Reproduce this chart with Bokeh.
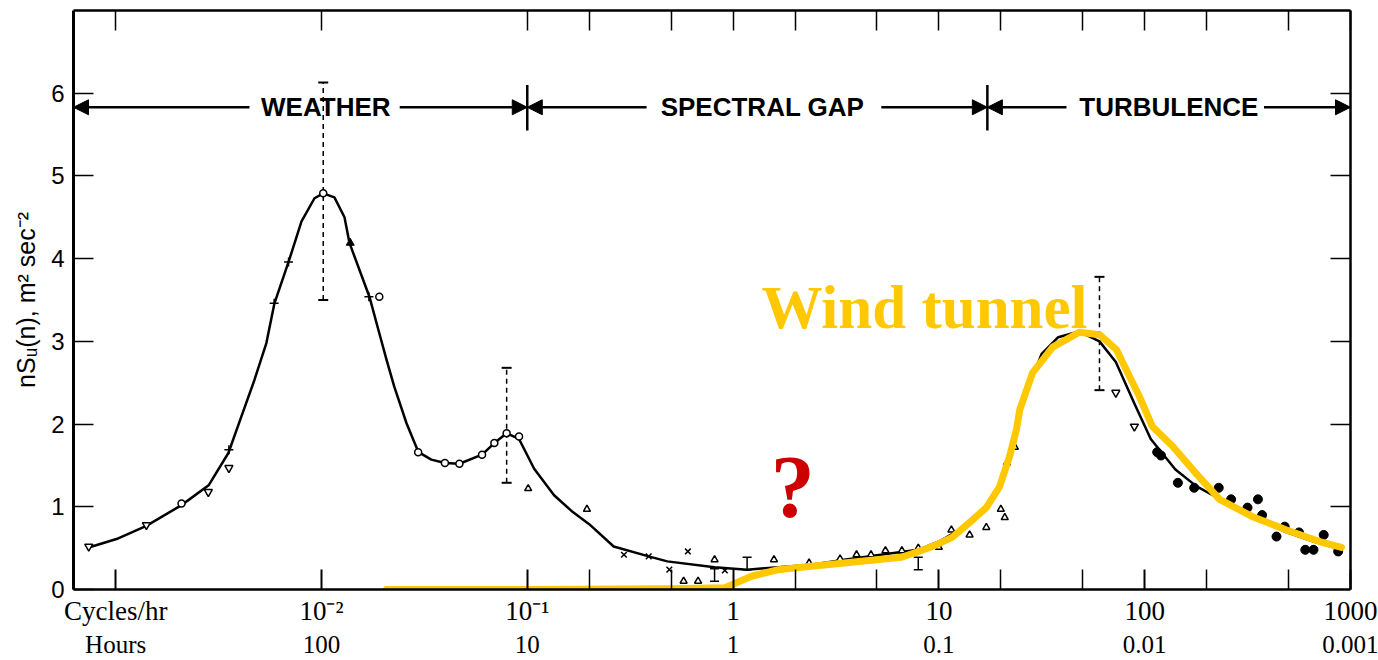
from bokeh.plotting import figure
from bokeh.models import (LogAxis, LinearAxis, FixedTicker, Range1d, Label,
                          Arrow, NormalHead)
from bokeh.embed import file_html
from bokeh.resources import INLINE

# ---------------- data (cycles/hr, m^2 sec^-2) ----------------
curve_f = [0.000746, 0.00101, 0.00141, 0.00209, 0.00283, 0.00353, 0.00408, 0.00472,
           0.0054, 0.00591, 0.00692, 0.0080, 0.00925, 0.0102, 0.01156, 0.01294,
           0.01368, 0.0171, 0.0189, 0.0207, 0.0226, 0.0259, 0.0296, 0.0342,
           0.0398, 0.0468, 0.0603, 0.0692, 0.0794, 0.0912, 0.108, 0.135, 0.164,
           0.200, 0.263, 0.389, 0.479, 0.813, 1.17, 1.48, 2.40, 3.47, 6.03, 7.94,
           10.0, 12.6, 15.8, 19.1, 22.4, 26.3, 31.6, 38.0, 47.9, 60.3, 72.4, 89.1,
           107, 141, 178, 229, 316, 479, 661, 912]
curve_v = [0.51, 0.61, 0.77, 1.02, 1.26, 1.65, 2.09, 2.53, 2.98, 3.46, 3.96, 4.45,
           4.73, 4.79, 4.74, 4.50, 4.19, 3.54, 3.14, 2.78, 2.45, 2.01, 1.66, 1.57,
           1.53, 1.52, 1.63, 1.77, 1.89, 1.82, 1.46, 1.14, 0.95, 0.79, 0.52, 0.40,
           0.34, 0.27, 0.24, 0.26, 0.30, 0.36, 0.44, 0.48, 0.58, 0.72, 0.90, 1.20,
           1.70, 2.35, 2.85, 3.05, 3.12, 3.00, 2.75, 2.25, 1.82, 1.45, 1.25, 1.10,
           0.92, 0.70, 0.58, 0.48]

wt_f = [0.0207, 0.099, 0.50, 0.908, 1.23, 1.66, 2.15, 3.76, 6.58, 7.96, 9.52, 11.6,
        14.1, 17.0, 19.7, 22.0, 23.8, 24.7, 28.5, 35.7, 48.2, 60.3, 72.9, 81.6,
        94.4, 109, 137, 171, 231, 334, 489, 707, 904]
wt_v = [0.0, 0.0, 0.01, 0.02, 0.16, 0.24, 0.27, 0.33, 0.39, 0.46, 0.53, 0.63, 0.81,
        0.99, 1.24, 1.60, 1.93, 2.17, 2.62, 2.93, 3.11, 3.08, 2.90, 2.65, 2.33,
        1.97, 1.73, 1.45, 1.09, 0.88, 0.72, 0.58, 0.51]

invtri_f = [0.00074, 0.00141, 0.00282, 0.00355, 72.4, 89.1]
invtri_v = [0.52, 0.78, 1.18, 1.47, 2.38, 1.97]
ocirc_f = [0.00209, 0.0102, 0.0191, 0.0295, 0.0398, 0.0468, 0.0603, 0.0692, 0.0794, 0.0912]
ocirc_v = [1.04, 4.79, 3.54, 1.66, 1.53, 1.52, 1.63, 1.77, 1.89, 1.85]
plus_f = [0.00355, 0.00589, 0.00692, 0.0170]
plus_v = [1.69, 3.46, 3.96, 3.54]
ftri_f = [0.0138]
ftri_v = [4.19]
otri_f = [0.101, 0.195, 0.575, 0.676, 0.813, 1.58, 2.34, 3.31, 3.98, 4.68, 5.50,
          6.61, 7.94, 10.0, 11.5, 14.1, 17.0, 20.0, 20.9, 21.4, 23.4]
otri_v = [1.22, 0.97, 0.10, 0.10, 0.36, 0.36, 0.32, 0.37, 0.42, 0.42, 0.47, 0.47,
          0.50, 0.51, 0.72, 0.66, 0.75, 0.97, 0.87, 1.53, 1.72]
xm_f = [0.295, 0.389, 0.603, 0.490, 0.912]
xm_v = [0.42, 0.40, 0.46, 0.24, 0.23]
fcirc_f = [115, 120, 145, 174, 229, 263, 316, 355, 372, 437, 479, 562, 603, 661, 741, 871]
fcirc_v = [1.66, 1.62, 1.29, 1.23, 1.23, 1.09, 0.99, 1.09, 0.90, 0.64, 0.76, 0.69,
           0.48, 0.48, 0.66, 0.46]

eb_f = [0.0102, 0.0794, 60.3]
eb_lo = [3.50, 1.29, 2.41]
eb_hi = [6.13, 2.68, 3.78]
seb_f = [0.813, 1.17, 7.94]
seb_lo = [0.10, 0.24, 0.24]
seb_hi = [0.25, 0.39, 0.39]

x_major = [0.001, 0.01, 0.1, 1, 10, 100, 1000]
x_minor = [0.2, 0.5, 2, 5, 20, 50, 200, 500]
cycles_labels = ["Cycles/hr", "10\u207b\u00b2", "10\u207b\u00b9", "1", "10", "100", "1000"]
hours_labels = ["Hours", "100", "10", "1", "0.1", "0.01", "0.001"]
y_ticks = [0, 1, 2, 3, 4, 5, 6]
y_ticks_right = [1, 2, 3, 4, 5, 6]
y_title = "nS\u1d64(n), m\u00b2 sec\u207b\u00b2"

region_bounds = [0.1, 17.2]
region_names = ["WEATHER", "SPECTRAL GAP", "TURBULENCE"]
region_centers = [0.0105, 1.39, 131]

# ---------------- figure ----------------
p = figure(width=1378, height=660, x_axis_type="log",
           x_range=Range1d(0.000624, 1000), y_range=Range1d(0, 7),
           output_backend="svg", toolbar_location=None,
           min_border_left=73, min_border_right=28, min_border_top=10,
           min_border_bottom=70)
p.xgrid.visible = False
p.ygrid.visible = False
p.outline_line_color = None
p.background_fill_color = "white"
p.border_fill_color = "white"

xa = p.xaxis[0]
xa.ticker = FixedTicker(ticks=x_major, minor_ticks=x_minor)
xa.major_tick_in = 20
xa.major_tick_out = 0
xa.minor_tick_in = 20
xa.minor_tick_out = 0
xa.axis_line_width = 2.5
xa.major_tick_line_width = 2
xa.minor_tick_line_width = 1.5
xa.major_label_overrides = {f: t for f, t in zip(x_major, cycles_labels)}
xa.major_label_text_font = "Liberation Serif"
xa.major_label_text_font_size = "27px"
xa.major_label_text_color = "black"
xa.major_label_standoff = 6

ha = LogAxis(ticker=FixedTicker(ticks=x_major, minor_ticks=[]))
ha.major_tick_in = 0
ha.major_tick_out = 0
ha.minor_tick_in = 0
ha.minor_tick_out = 0
ha.axis_line_color = None
ha.major_label_overrides = {f: t for f, t in zip(x_major, hours_labels)}
ha.major_label_text_font = "Liberation Serif"
ha.major_label_text_font_size = "25px"
ha.major_label_text_color = "black"
ha.major_label_standoff = 2
p.add_layout(ha, "below")

ta = LogAxis(ticker=FixedTicker(ticks=x_major, minor_ticks=x_minor))
ta.major_tick_in = 20
ta.major_tick_out = 0
ta.minor_tick_in = 20
ta.minor_tick_out = 0
ta.axis_line_width = 2.5
ta.major_tick_line_width = 1.5
ta.minor_tick_line_width = 1.5
ta.major_label_text_font_size = "1px"
ta.major_label_text_alpha = 0
ta.major_label_standoff = 0
p.add_layout(ta, "above")

ya = p.yaxis[0]
ya.ticker = FixedTicker(ticks=y_ticks, minor_ticks=[])
ya.major_tick_in = 20
ya.major_tick_out = 0
ya.minor_tick_in = 0
ya.minor_tick_out = 0
ya.axis_line_width = 3
ya.major_tick_line_width = 1.5
ya.major_label_text_font = "Liberation Sans"
ya.major_label_text_font_size = "24px"
ya.major_label_text_color = "black"
ya.major_label_standoff = 9
ya.axis_label = y_title
ya.axis_label_text_font = "Liberation Sans"
ya.axis_label_text_font_style = "normal"
ya.axis_label_text_font_size = "25px"
ya.axis_label_text_color = "black"
ya.axis_label_standoff = 8

ra = LinearAxis(ticker=FixedTicker(ticks=y_ticks_right, minor_ticks=[]))
ra.major_tick_in = 20
ra.major_tick_out = 0
ra.minor_tick_in = 0
ra.minor_tick_out = 0
ra.axis_line_width = 2.5
ra.major_tick_line_width = 1.5
ra.major_label_text_font_size = "1px"
ra.major_label_text_alpha = 0
ra.major_label_standoff = 0
p.add_layout(ra, "right")

# ---------------- region arrows ----------------
ay = 5.83
def arrow(x0, x1):
    p.add_layout(Arrow(end=NormalHead(size=15, fill_color="black", line_color="black"),
                       x_start=x0, y_start=ay, x_end=x1, y_end=ay,
                       line_width=2.5, line_color="black"))

arrow(0.00447, 0.000624)
arrow(0.0240, region_bounds[0])
arrow(0.38, region_bounds[0])
arrow(5.25, region_bounds[1])
arrow(41.7, region_bounds[1])
arrow(380, 1000)
p.segment(x0=region_bounds, y0=[5.55, 5.55], x1=region_bounds, y1=[6.1, 6.1],
          line_color="black", line_width=2.5)
for name, c in zip(region_names, region_centers):
    p.add_layout(Label(x=c, y=ay, text=name, text_align="center",
                       text_baseline="middle", text_font="Liberation Sans",
                       text_font_style="bold", text_font_size="26px",
                       text_color="black"))

# ---------------- error bars ----------------
p.segment(x0=eb_f, y0=eb_lo, x1=eb_f, y1=eb_hi, line_color="black",
          line_width=1.5, line_dash="5 4")
p.scatter(eb_f, eb_lo, marker="dash", size=10, line_color="black", line_width=2)
p.scatter(eb_f, eb_hi, marker="dash", size=10, line_color="black", line_width=2)
p.segment(x0=seb_f, y0=seb_lo, x1=seb_f, y1=seb_hi, line_color="black", line_width=1.5)
p.scatter(seb_f, seb_lo, marker="dash", size=9, line_color="black", line_width=1.5)
p.scatter(seb_f, seb_hi, marker="dash", size=9, line_color="black", line_width=1.5)

# ---------------- curves and points ----------------
p.line(curve_f, curve_v, line_color="black", line_width=2.5, line_join="round")

p.scatter(invtri_f, invtri_v, marker="inverted_triangle", size=8,
          fill_color="white", line_color="black", line_width=1.5)
p.scatter(ocirc_f, ocirc_v, marker="circle", size=7,
          fill_color="white", line_color="black", line_width=1.5)
p.scatter(plus_f, plus_v, marker="cross", size=9, line_color="black", line_width=1.5)
p.scatter(ftri_f, ftri_v, marker="triangle", size=8, fill_color="black",
          line_color="black")
p.scatter(otri_f, otri_v, marker="triangle", size=7, fill_color="white",
          line_color="black", line_width=1.5)
p.scatter(xm_f, xm_v, marker="x", size=8, line_color="black", line_width=1.5)
p.scatter(fcirc_f, fcirc_v, marker="circle", size=9, fill_color="black",
          line_color="black")

p.line(wt_f, wt_v, line_color="#FFC800", line_width=7, line_join="round",
       line_cap="round")

# ---------------- texts ----------------
p.add_layout(Label(x=1.374, y=3.415, text="Wind tunnel", text_align="left",
                   text_baseline="alphabetic", text_font="Liberation Serif",
                   text_font_style="bold", text_font_size="61px",
                   text_color="#FFC800"))
p.add_layout(Label(x=1.95, y=1.24, text="?", text_align="center",
                   text_baseline="alphabetic", text_font="Liberation Serif",
                   text_font_style="bold", text_font_size="88px",
                   text_color="#CC0000"))

open("out.html", "w").write(file_html(p, INLINE))
